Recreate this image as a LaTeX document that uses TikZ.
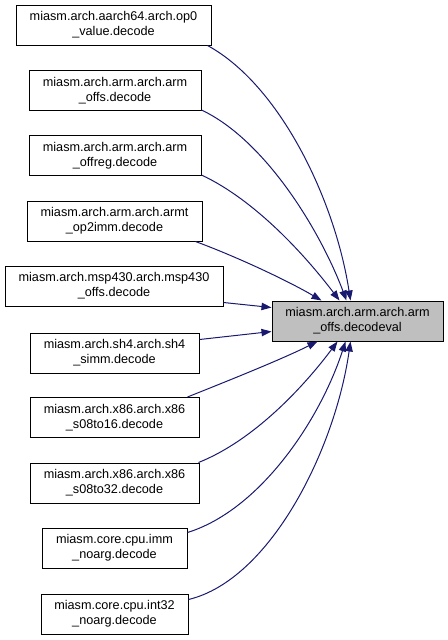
\documentclass[tikz,border=0pt]{standalone}
\usepackage{fontspec}
\setmainfont{Liberation Sans}
\usetikzlibrary{arrows.meta}
\definecolor{edgeblue}{HTML}{191970}
\definecolor{tgtgray}{HTML}{BFBFBF}
\tikzset{
  fn/.style={draw=black, line width=0.75pt, fill=white, align=center, inner sep=0pt,
    minimum height=40*0.75pt, font=\fontsize{9.5}{11.4}\selectfont},
  tgt/.style={fn, fill=tgtgray},
  edge/.style={draw=edgeblue, line width=0.75pt, -{Triangle[length=7.5pt,width=5.5pt]}},
}
\begin{document}
\begin{tikzpicture}[x=0.75pt,y=-0.75pt]
\useasboundingbox (0,0) rectangle (448,640);
\node[fn, minimum width=195*0.75pt] (n1) at (113.5,25) {miasm.arch.aarch64.arch.op0\\\_value.decode};
\node[fn, minimum width=172*0.75pt] (n2) at (115,90.5) {miasm.arch.arm.arch.arm\\\_offs.decode};
\node[fn, minimum width=172*0.75pt] (n3) at (115,155.5) {miasm.arch.arm.arch.arm\\\_offreg.decode};
\node[fn, minimum width=175*0.75pt] (n4) at (114.5,221) {miasm.arch.arm.arch.armt\\\_op2imm.decode};
\node[fn, minimum width=218*0.75pt] (n5) at (114,286) {miasm.arch.msp430.arch.msp430\\\_offs.decode};
\node[fn, minimum width=169*0.75pt] (n6) at (114.5,353) {miasm.arch.sh4.arch.sh4\\\_simm.decode};
\node[fn, minimum width=169*0.75pt] (n7) at (114.5,417.5) {miasm.arch.x86.arch.x86\\\_s08to16.decode};
\node[fn, minimum width=169*0.75pt] (n8) at (114.5,483) {miasm.arch.x86.arch.x86\\\_s08to32.decode};
\node[fn, minimum width=145*0.75pt] (n9) at (114.5,548) {miasm.core.cpu.imm\\\_noarg.decode};
\node[fn, minimum width=147*0.75pt] (n10) at (114.5,614) {miasm.core.cpu.int32\\\_noarg.decode};
\node[tgt, minimum width=171*0.75pt] (t) at (357.5,321) {miasm.arch.arm.arch.arm\\\_offs.decodeval};

\draw[edge] ([shift={(-4,0)}]n1.south east) .. controls (280,85) and (335,200) .. ([shift={(79,0)}]t.north west);
\draw[edge] ([shift={(0,-1)}]n2.south east) .. controls (265,140) and (320,230) .. ([shift={(75,0)}]t.north west);
\draw[edge] ([shift={(0,-1)}]n3.south east) .. controls (255,200) and (305,255) .. ([shift={(68,0)}]t.north west);
\draw[edge] ([shift={(-7,0)}]n4.south east) .. controls (240,258) and (290,282) .. ([shift={(50,0)}]t.north west);
\draw[edge] ([shift={(0,-4)}]n5.south east) -- ([shift={(0,7)}]t.north west);
\draw[edge] ([shift={(0,7)}]n6.north east) -- ([shift={(0,-10)}]t.south west);
\draw[edge] ([shift={(-12,0)}]n7.north east) .. controls (230,380) and (280,360) .. ([shift={(46,0)}]t.south west);
\draw[edge] ([shift={(-1,0)}]n8.north east) .. controls (255,440) and (305,385) .. ([shift={(66,0)}]t.south west);
\draw[edge] ([shift={(0,5)}]n9.north east) .. controls (260,510) and (320,420) .. ([shift={(74,0)}]t.south west);
\draw[edge] ([shift={(0,6)}]n10.north east) .. controls (270,580) and (335,450) .. ([shift={(79,0)}]t.south west);
\end{tikzpicture}
\end{document}
